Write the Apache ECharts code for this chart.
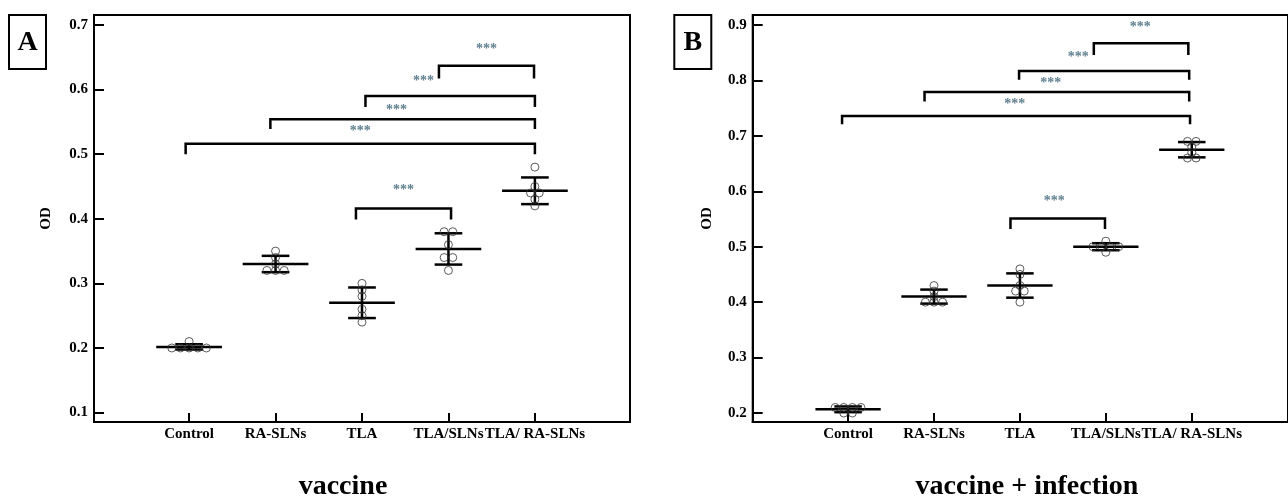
<!DOCTYPE html>
<html lang="en">
<head>
    <meta charset="UTF-8">
    <title>OD vaccine / vaccine + infection</title>
    <script src="https://cdn.jsdelivr.net/npm/echarts@6/dist/echarts.min.js"></script>
    <style>
        html, body { margin: 0; padding: 0; background: #fff; }
        #chart { width: 1288px; height: 500px; }
    </style>
</head>
<body>
    <div id="chart"></div>

    <script>
        // groups on the x axis
        const categories = ['Control', 'RA-SLNs', 'TLA', 'TLA/SLNs', 'TLA/ RA-SLNs'];
        const categoryTicks = [1, 2, 3, 4, 5];

        // individual OD readings, one array per group (panel A: vaccine)
        const vaccineOD = [
            [0.20, 0.20, 0.20, 0.20, 0.20, 0.21],
            [0.35, 0.34, 0.33, 0.32, 0.32, 0.32],
            [0.30, 0.29, 0.28, 0.26, 0.25, 0.24],
            [0.38, 0.38, 0.36, 0.34, 0.34, 0.32],
            [0.48, 0.45, 0.44, 0.44, 0.43, 0.42]
        ];
        // panel B: vaccine + infection
        const infectionOD = [
            [0.21, 0.21, 0.21, 0.21, 0.20, 0.20],
            [0.43, 0.42, 0.41, 0.40, 0.40, 0.40],
            [0.46, 0.45, 0.43, 0.42, 0.42, 0.40],
            [0.51, 0.50, 0.50, 0.50, 0.50, 0.49],
            [0.69, 0.69, 0.68, 0.67, 0.66, 0.66]
        ];

        const yTicksA = [0.1, 0.2, 0.3, 0.4, 0.5, 0.6, 0.7];
        const yTicksB = [0.2, 0.3, 0.4, 0.5, 0.6, 0.7, 0.8, 0.9];

        // significance brackets: [from x, to x, bar height, foot height]
        const bracketsA = [
            [3.89, 4.99, 0.637, 0.617],
            [3.04, 5.00, 0.590, 0.573],
            [1.94, 5.00, 0.554, 0.539],
            [0.96, 5.00, 0.516, 0.500],
            [2.93, 4.03, 0.416, 0.399]
        ];
        const starsA = [[4.44, 0.662], [3.71, 0.613], [3.40, 0.568], [2.98, 0.535], [3.48, 0.444]];

        const bracketsB = [
            [3.86, 4.96, 0.867, 0.846],
            [2.99, 4.97, 0.817, 0.801],
            [1.89, 4.97, 0.779, 0.762],
            [0.93, 4.98, 0.736, 0.721],
            [2.89, 3.99, 0.551, 0.532]
        ];
        const starsB = [[4.40, 0.896], [3.68, 0.842], [3.36, 0.795], [2.94, 0.756], [3.40, 0.582]];

        const FONT = '"Liberation Serif", "DejaVu Serif", serif';

        // spread equal readings sideways like a dot plot
        function dotPoints(groups) {
            const pts = [];
            groups.forEach((vals, i) => {
                const counts = {};
                vals.forEach(v => { counts[v] = (counts[v] || 0) + 1; });
                const seen = {};
                vals.forEach(v => {
                    const n = counts[v];
                    const k = seen[v] || 0;
                    seen[v] = k + 1;
                    pts.push([i + 1 + (k - (n - 1) / 2) * 0.1, v]);
                });
            });
            return pts;
        }

        function meanSd(groups) {
            return groups.map((vals, i) => {
                const m = vals.reduce((a, b) => a + b, 0) / vals.length;
                const sd = Math.sqrt(vals.reduce((a, b) => a + (b - m) * (b - m), 0) / (vals.length - 1));
                return [i + 1, m, sd];
            });
        }

        function renderErrorBar(params, api) {
            const x = api.value(0), m = api.value(1), s = api.value(2);
            const c = api.coord([x, m]);
            const top = api.coord([x, m + s]);
            const bot = api.coord([x, m - s]);
            const mw = api.size([0.38, 0])[0];
            const cw = api.size([0.16, 0])[0];
            const st = { stroke: '#000', lineWidth: 2.5 };
            return {
                type: 'group',
                children: [
                    { type: 'line', shape: { x1: c[0] - mw, y1: c[1], x2: c[0] + mw, y2: c[1] }, style: st },
                    { type: 'line', shape: { x1: c[0], y1: top[1], x2: c[0], y2: bot[1] }, style: st },
                    { type: 'line', shape: { x1: c[0] - cw, y1: top[1], x2: c[0] + cw, y2: top[1] }, style: st },
                    { type: 'line', shape: { x1: c[0] - cw, y1: bot[1], x2: c[0] + cw, y2: bot[1] }, style: st }
                ]
            };
        }

        function renderBracket(params, api) {
            const x1 = api.value(0), x2 = api.value(1), yt = api.value(2), yf = api.value(3);
            return {
                type: 'polyline',
                shape: { points: [api.coord([x1, yf]), api.coord([x1, yt]), api.coord([x2, yt]), api.coord([x2, yf])] },
                style: { stroke: '#000', lineWidth: 2.5, fill: null }
            };
        }

        function renderStars(params, api) {
            const p = api.coord([api.value(0), api.value(1)]);
            return {
                type: 'text',
                x: p[0], y: p[1],
                style: {
                    text: '***', fill: '#5f7f8f', font: 'bold 14px ' + FONT,
                    align: 'center', verticalAlign: 'middle'
                }
            };
        }

        function xAxisFor(gridIndex, min, max) {
            return {
                type: 'value', gridIndex, min, max,
                splitLine: { show: false },
                axisLine: { show: true, onZero: false, lineStyle: { color: '#000', width: 2 } },
                axisTick: { show: true, inside: true, length: 9, customValues: categoryTicks, lineStyle: { color: '#000', width: 2 } },
                axisLabel: {
                    customValues: categoryTicks, margin: 5,
                    color: '#000', fontFamily: FONT, fontWeight: 'bold', fontSize: 15,
                    formatter: v => categories[Math.round(v) - 1]
                }
            };
        }

        function yAxisFor(gridIndex, min, max, ticks, nameGap) {
            return {
                type: 'value', gridIndex, min, max,
                name: 'OD', nameLocation: 'middle', nameGap,
                nameTextStyle: { color: '#000', fontFamily: FONT, fontWeight: 'bold', fontSize: 15 },
                splitLine: { show: false },
                axisLine: { show: true, onZero: false, lineStyle: { color: '#000', width: 2 } },
                axisTick: { show: true, inside: true, length: 10, customValues: ticks, lineStyle: { color: '#000', width: 2 } },
                axisLabel: {
                    customValues: ticks, margin: 6,
                    color: '#000', fontFamily: FONT, fontWeight: 'bold', fontSize: 15,
                    formatter: v => v.toFixed(1)
                }
            };
        }

        function panelSeries(idx, groups, brackets, stars) {
            return [
                {
                    type: 'custom', xAxisIndex: idx, yAxisIndex: idx, z: 3,
                    renderItem: renderBracket, data: brackets, silent: true
                },
                {
                    type: 'custom', xAxisIndex: idx, yAxisIndex: idx, z: 3,
                    renderItem: renderErrorBar, data: meanSd(groups), silent: true
                },
                {
                    type: 'scatter', xAxisIndex: idx, yAxisIndex: idx, z: 4,
                    symbol: 'circle', symbolSize: 8,
                    itemStyle: { color: 'rgba(255,255,255,0)', borderColor: '#333', borderWidth: 1 },
                    data: dotPoints(groups), silent: true
                },
                {
                    type: 'custom', xAxisIndex: idx, yAxisIndex: idx, z: 5,
                    renderItem: renderStars, data: stars, silent: true
                }
            ];
        }

        function labelBox(x, letter) {
            return {
                type: 'group',
                children: [
                    { type: 'rect', shape: { x: x, y: 15, width: 37, height: 54 }, style: { fill: '#fff', stroke: '#000', lineWidth: 2 } },
                    {
                        type: 'text', x: x + 18.5, y: 43,
                        style: { text: letter, font: 'bold 28px ' + FONT, fill: '#000', align: 'center', verticalAlign: 'middle', textAlign: 'center', textVerticalAlign: 'middle' }
                    }
                ]
            };
        }

        function panelTitle(x, text) {
            return {
                type: 'text', x: x, y: 487,
                style: { text, font: 'bold 28px ' + FONT, fill: '#000', align: 'center', verticalAlign: 'middle', textAlign: 'center', textVerticalAlign: 'middle' }
            };
        }

        const chart = echarts.init(document.getElementById('chart'), null, { renderer: 'canvas' });

        chart.setOption({
            animation: false,
            backgroundColor: '#fff',
            grid: [
                { left: 94, top: 15, width: 536, height: 407, show: true, borderColor: '#000', borderWidth: 2, containLabel: false },
                { left: 752.7, top: 15, width: 538, height: 407, show: true, borderColor: '#000', borderWidth: 2, containLabel: false }
            ],
            xAxis: [
                xAxisFor(0, -0.1, 6.1),
                xAxisFor(1, -0.11, 6.12)
            ],
            yAxis: [
                yAxisFor(0, 0.0854, 0.7155, yTicksA, 40),
                yAxisFor(1, 0.1838, 0.918, yTicksB, 38)
            ],
            graphic: [
                labelBox(9, 'A'),
                labelBox(674.3, 'B'),
                panelTitle(343, 'vaccine'),
                panelTitle(1027, 'vaccine + infection')
            ],
            series: [
                ...panelSeries(0, vaccineOD, bracketsA, starsA),
                ...panelSeries(1, infectionOD, bracketsB, starsB)
            ]
        });
    </script>
</body>
</html>
